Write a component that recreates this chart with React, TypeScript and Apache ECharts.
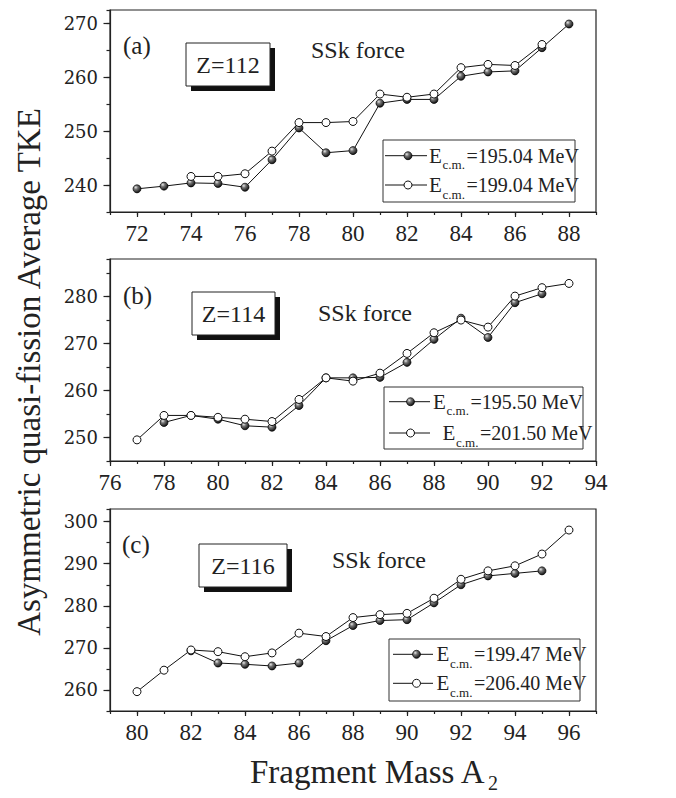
import React, { useEffect, useRef } from "react";
import * as echarts from "echarts";

// ---------- data ----------
// Panel (a) Z=112
const massA1 = [72, 73, 74, 75, 76, 77, 78, 79, 80, 81, 82, 83, 84, 85, 86, 87, 88];
const tkeA1 = [239.3, 239.8, 240.4, 240.3, 239.6, 244.7, 250.6, 246.0, 246.4, 255.2, 255.9, 255.9, 260.2, 261.0, 261.2, 265.5, 269.9];
const massA2 = [74, 75, 76, 77, 78, 79, 80, 81, 82, 83, 84, 85, 86, 87];
const tkeA2 = [241.6, 241.6, 242.1, 246.3, 251.6, 251.6, 251.8, 256.9, 256.3, 256.9, 261.8, 262.4, 262.2, 266.1];
// Panel (b) Z=114
const massB1 = [78, 79, 80, 81, 82, 83, 84, 85, 86, 87, 88, 89, 90, 91, 92];
const tkeB1 = [253.2, 254.7, 253.9, 252.5, 252.2, 256.8, 262.7, 262.7, 262.8, 266.0, 270.9, 275.4, 271.3, 278.7, 280.6];
const massB2 = [77, 78, 79, 80, 81, 82, 83, 84, 85, 86, 87, 88, 89, 90, 91, 92, 93];
const tkeB2 = [249.5, 254.7, 254.7, 254.3, 253.9, 253.4, 258.1, 262.7, 262.0, 263.7, 267.9, 272.3, 275.0, 273.5, 280.1, 281.9, 282.8];
// Panel (c) Z=116
const massC1 = [82, 83, 84, 85, 86, 87, 88, 89, 90, 91, 92, 93, 94, 95];
const tkeC1 = [269.3, 266.4, 266.1, 265.7, 266.4, 271.7, 275.3, 276.5, 276.7, 280.7, 285.0, 287.1, 287.7, 288.3];
const massC2 = [80, 81, 82, 83, 84, 85, 86, 87, 88, 89, 90, 91, 92, 93, 94, 95, 96];
const tkeC2 = [259.6, 264.7, 269.5, 269.1, 267.9, 268.8, 273.5, 272.7, 277.2, 277.9, 278.2, 281.8, 286.3, 288.3, 289.5, 292.3, 298.0];

const energiesA = ["195.04", "199.04"];
const energiesB = ["195.50", "201.50"];
const energiesC = ["199.47", "206.40"];

const xTicksA = [72, 74, 76, 78, 80, 82, 84, 86, 88];
const xTicksB = [76, 78, 80, 82, 84, 86, 88, 90, 92, 94];
const xTicksC = [80, 82, 84, 86, 88, 90, 92, 94, 96];
const yTicksA = [240, 250, 260, 270];
const yTicksB = [250, 260, 270, 280];
const yTicksC = [260, 270, 280, 290, 300];

const panelTags = ["(a)", "(b)", "(c)"];
const zLabels = ["Z=112", "Z=114", "Z=116"];
const forceLabel = "SSk force";
const yTitle = "Asymmetric quasi-fission Average TKE";
const xTitle = "Fragment Mass A";
const xTitleSub = "2";

// ---------- layout ----------
const SERIF = "Liberation Serif";
const YSERIF = "DejaVu Serif";
const INK = "#222";

const panels = [
  {
    top: 10, xMin: 71, xMax: 89, yMin: 235, yMax: 272.5,
    xTicks: xTicksA, yTicks: yTicksA,
    s1: [massA1, tkeA1], s2: [massA2, tkeA2], energies: energiesA,
    tag: [123, 45.5], zbox: [186, 43, 84, 43], force: [311, 49.5],
    legend: { box: [383, 140, 192, 62], lx1: 385, lx2: 427, mx: 408, rows: [155.7, 185], ex: [429, 429] },
  },
  {
    top: 259, xMin: 76, xMax: 94, yMin: 245, yMax: 288,
    xTicks: xTicksB, yTicks: yTicksB,
    s1: [massB1, tkeB1], s2: [massB2, tkeB2], energies: energiesB,
    tag: [123, 295], zbox: [192, 292, 83, 43], force: [318, 313.3],
    legend: { box: [384, 387, 199, 62], lx1: 389, lx2: 430, mx: 410.5, rows: [401.7, 433], ex: [433, 442.5] },
  },
  {
    top: 509, xMin: 79, xMax: 97, yMin: 255, yMax: 303,
    xTicks: xTicksC, yTicks: yTicksC,
    s1: [massC1, tkeC1], s2: [massC2, tkeC2], energies: energiesC,
    tag: [122, 544], zbox: [199, 544, 88, 43], force: [332, 559.5],
    legend: { box: [389, 639, 191, 62], lx1: 393, lx2: 433, mx: 416.5, rows: [654.3, 683.3], ex: [436.5, 436.5] },
  },
];

const sphere = () =>
  new echarts.graphic.RadialGradient(0.35, 0.32, 0.7, [
    { offset: 0, color: "#e8e8e8" },
    { offset: 0.35, color: "#777" },
    { offset: 1, color: "#111" },
  ]);

const txt = (x: number, y: number, text: string, size: number, family: string, extra: any = {}) => ({
  type: "text",
  x,
  y,
  ...extra,
  style: { text, fontSize: size, fontFamily: family, fill: INK, verticalAlign: "middle", ...(extra.style || {}) },
});

export default function App() {
  const ref = useRef<HTMLDivElement>(null);

  useEffect(() => {
    if (!ref.current) return;
    const chart = echarts.init(ref.current, null, { renderer: "svg" });

    const grid: any[] = [];
    const xAxis: any[] = [];
    const yAxis: any[] = [];
    const series: any[] = [];
    const graphic: any[] = [];
    const line = { color: INK, width: 1.2 };

    panels.forEach((p, i) => {
      grid.push({ left: 110, top: p.top, width: 486, height: 202, show: true, borderColor: INK, borderWidth: 1.2 });
      xAxis.push({
        type: "value", gridIndex: i, min: p.xMin, max: p.xMax, interval: 1, position: "bottom",
        axisLine: { show: true, lineStyle: line },
        axisTick: { show: true, customValues: p.xTicks, length: 5, lineStyle: line },
        axisLabel: { show: true, customValues: p.xTicks, margin: 10, fontFamily: SERIF, fontSize: 23, color: INK },
        splitLine: { show: false },
      });
      xAxis.push({
        type: "value", gridIndex: i, min: p.xMin, max: p.xMax, interval: 1, position: "bottom",
        axisLine: { show: false }, axisTick: { show: true, length: 3, lineStyle: line },
        axisLabel: { show: false }, splitLine: { show: false },
      });
      yAxis.push({
        type: "value", gridIndex: i, min: p.yMin, max: p.yMax, interval: 5, position: "left",
        axisLine: { show: true, lineStyle: line },
        axisTick: { show: true, customValues: p.yTicks, length: 6.5, lineStyle: line },
        axisLabel: { show: true, customValues: p.yTicks, margin: 12, fontFamily: YSERIF, fontSize: 18, color: INK },
        splitLine: { show: false },
      });
      yAxis.push({
        type: "value", gridIndex: i, min: p.yMin, max: p.yMax, interval: 5, position: "left",
        axisLine: { show: false }, axisTick: { show: true, length: 3.5, lineStyle: line },
        axisLabel: { show: false }, splitLine: { show: false },
      });

      const [m1, t1] = p.s1;
      const [m2, t2] = p.s2;
      series.push({
        type: "line", name: "Ecm=" + p.energies[0], xAxisIndex: 2 * i, yAxisIndex: 2 * i,
        data: m1.map((m, k) => [m, t1[k]]),
        symbol: "circle", symbolSize: 8,
        lineStyle: { color: "#111", width: 1 },
        itemStyle: { color: sphere(), borderColor: "#000", borderWidth: 0.7 },
        z: 3,
      });
      series.push({
        type: "line", name: "Ecm=" + p.energies[1], xAxisIndex: 2 * i, yAxisIndex: 2 * i,
        data: m2.map((m, k) => [m, t2[k]]),
        symbol: "circle", symbolSize: 8,
        lineStyle: { color: "#111", width: 1 },
        itemStyle: { color: "#fff", borderColor: "#111", borderWidth: 1 },
        z: 4,
      });

      // panel tag and force label
      graphic.push(txt(p.tag[0], p.tag[1], panelTags[i], 25, SERIF));
      graphic.push(txt(p.force[0], p.force[1], forceLabel, 24, SERIF));
      // Z box with shadow
      const [bx, by, bw, bh] = p.zbox;
      graphic.push({ type: "rect", shape: { x: bx + 5, y: by + 5, width: bw, height: bh }, style: { fill: "#111" } });
      graphic.push({ type: "rect", shape: { x: bx, y: by, width: bw, height: bh }, style: { fill: "#fff", stroke: INK, lineWidth: 1 } });
      graphic.push(txt(bx + bw / 2, by + bh / 2, zLabels[i], 24, SERIF, { style: { align: "center" } }));

      // legend
      const L = p.legend;
      graphic.push({ type: "rect", shape: { x: L.box[0], y: L.box[1], width: L.box[2], height: L.box[3] }, style: { fill: "#fff", stroke: "#333", lineWidth: 1 } });
      L.rows.forEach((ry, r) => {
        graphic.push({ type: "line", shape: { x1: L.lx1, y1: ry, x2: L.lx2, y2: ry }, style: { stroke: "#111", lineWidth: 1 } });
        graphic.push({ type: "circle", shape: { cx: L.mx, cy: ry, r: 4 }, style: r === 0 ? { fill: sphere(), stroke: "#000", lineWidth: 0.7 } : { fill: "#fff", stroke: "#111", lineWidth: 1 } });
        const ex = L.ex[r];
        graphic.push(txt(ex, ry, "E", 21, SERIF));
        graphic.push(txt(ex + 13.5, ry + 9, "c.m.", 13, SERIF));
        graphic.push(txt(ex + 37.5, ry, "=" + p.energies[r] + " MeV", 20, SERIF));
      });
    });

    // axis titles
    graphic.push(txt(29, 372, yTitle, 33, SERIF, { rotation: Math.PI / 2, style: { align: "center" } }));
    graphic.push(txt(250, 772, xTitle, 33, SERIF));
    graphic.push(txt(488, 783, xTitleSub, 20, SERIF));

    chart.setOption({
      animation: false,
      backgroundColor: "#fff",
      grid, xAxis, yAxis, series, graphic,
    });
    return () => chart.dispose();
  }, []);

  return <div ref={ref} style={{ width: 676, height: 798, position: "absolute", left: 0, top: 0 }} />;
}
